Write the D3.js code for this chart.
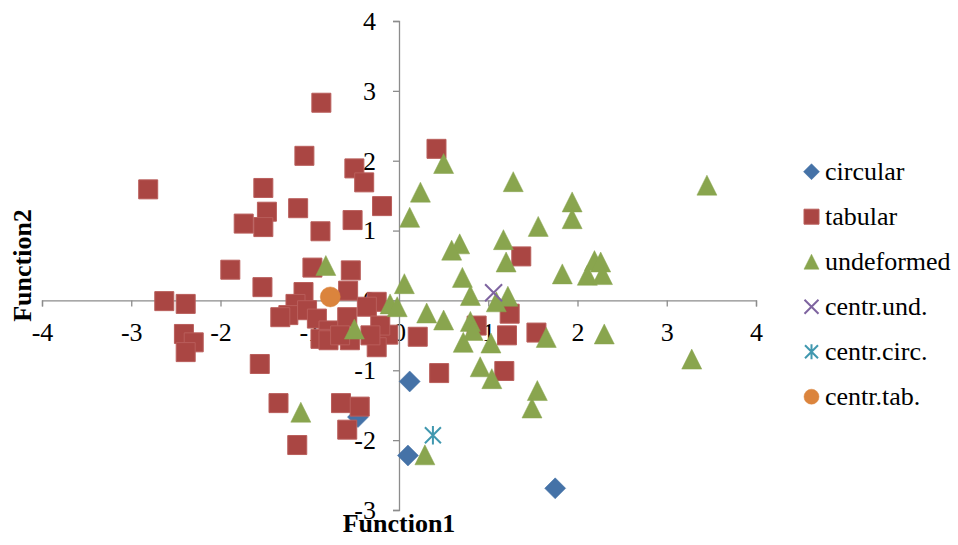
<!DOCTYPE html>
<html>
<head>
<meta charset="utf-8">
<script src="https://cdn.jsdelivr.net/npm/d3@7"></script>
<style>
  html, body { margin: 0; padding: 0; background: #fff; }
</style>
</head>
<body>
<svg id="chart" width="958" height="545"></svg>
<script>
// ---- data ----
const seriesNames = ["circular", "tabular", "undeformed", "centr.und.", "centr.circ.", "centr.tab."];

const circularX = [0.12, 0.10, 1.75, -0.46];
const circularY = [-1.16, -2.22, -2.69, -1.67];

const tabularX = [-0.87, -1.06, -0.50, -0.39, -2.81, -1.52, -0.19, -1.48, -1.13, -1.74,
  -1.52, -0.52, -0.88, -1.89, -0.97, -0.54, -1.53, -2.63, -2.39, -0.57,
  -1.07, -0.25, 0.42, 1.37, 1.24, 0.87, 1.21, 1.54, 0.21, 0.45,
  1.18, -0.12, -1.16, -1.24, -1.03, -0.92, -0.79, -0.88, -0.79, -0.58,
  -0.55, -0.36, -0.21, -0.25, -0.32, -1.33, -0.66, -2.41, -2.30, -2.39,
  -1.56, -1.35, -0.65, -0.44, -0.58, -1.14];
const tabularY = [2.83, 2.07, 1.89, 1.69, 1.59, 1.61, 1.35, 1.27, 1.32, 1.10,
  1.05, 1.15, 0.99, 0.44, 0.47, 0.43, 0.19, -0.01, -0.05, 0.14,
  0.12, -0.02, 2.17, 0.63, -0.19, -0.36, -0.50, -0.46, -0.52, -1.04,
  -1.01, -0.49, -0.05, -0.21, -0.14, -0.26, -0.43, -0.55, -0.57, -0.24,
  -0.57, -0.09, -0.36, -0.67, -0.50, -0.24, -0.50, -0.48, -0.60, -0.74,
  -0.91, -1.47, -1.47, -1.52, -1.85, -2.07];

const undeformedX = [-0.82, 0.12, 0.06, 0.50, 0.24, 1.28, 1.94, 1.94, 1.56, 1.17,
  0.68, 0.59, 1.20, 0.71, 1.83, 2.19, 2.26, 2.11, 2.28, 0.80,
  1.22, 1.09, -0.10, -0.02, 0.31, 0.50, 0.80, 0.83, 0.72, 1.03,
  0.91, 1.04, 1.55, 1.49, 0.29, 1.65, 2.30, 3.45, 3.28, -0.50, -1.10];
const undeformedY = [0.50, 1.19, 0.24, 1.96, 1.55, 1.70, 1.41, 1.17, 1.06, 0.87,
  0.81, 0.72, 0.55, 0.33, 0.38, 0.57, 0.55, 0.36, 0.37, 0.07,
  0.06, -0.02, -0.05, -0.09, -0.18, -0.28, -0.30, -0.43, -0.60, -0.61,
  -0.95, -1.12, -1.29, -1.54, -2.21, -0.53, -0.48, 1.65, -0.84, -0.41, -1.60];

const centrUndX = [1.06];
const centrUndY = [0.11];
const centrCircX = [0.38];
const centrCircY = [-1.93];
const centrTabX = [-0.77];
const centrTabY = [0.05];

const xTicks = [-4, -3, -2, -1, 0, 1, 2, 3, 4];
const yTicks = [-3, -2, -1, 0, 1, 2, 3, 4];

const FONT = "'Times New Roman', 'Liberation Serif', Tinos, 'DejaVu Serif', serif";

// ---- custom symbol types ----
const diamondType = { draw(ctx, size) { const r = Math.sqrt(size) / 2;
  ctx.moveTo(0, -r); ctx.lineTo(r, 0); ctx.lineTo(0, r); ctx.lineTo(-r, 0); ctx.closePath(); } };
const squareType = { draw(ctx, size) { const r = Math.sqrt(size) / 2;
  ctx.rect(-r, -r, 2 * r, 2 * r); } };
const triangleType = { draw(ctx, size) { const r = Math.sqrt(size) / 2;
  ctx.moveTo(0, -r); ctx.lineTo(r, r); ctx.lineTo(-r, r); ctx.closePath(); } };
const xType = { draw(ctx, size) { const r = Math.sqrt(size) / 2;
  ctx.moveTo(-r, -r); ctx.lineTo(r, r); ctx.moveTo(r, -r); ctx.lineTo(-r, r); } };
const starType = { draw(ctx, size) { const r = Math.sqrt(size) / 2;
  ctx.moveTo(-r, -r); ctx.lineTo(r, r); ctx.moveTo(r, -r); ctx.lineTo(-r, r);
  ctx.moveTo(0, -r * 1.15); ctx.lineTo(0, r * 1.15); } };
const circleType = { draw(ctx, size) { const r = Math.sqrt(size) / 2;
  ctx.moveTo(r, 0); ctx.arc(0, 0, r, 0, 2 * Math.PI); } };

const series = [
  { name: seriesNames[0], xs: circularX, ys: circularY, type: diamondType, size: 21 * 21, legSize: 16 * 16, fill: "#4572A7", stroke: "#4572A7", sw: 0.5 },
  { name: seriesNames[1], xs: tabularX, ys: tabularY, type: squareType, size: 19 * 19, legSize: 15 * 15, fill: "#AA4643", stroke: "#B95E5B", sw: 1 },
  { name: seriesNames[2], xs: undeformedX, ys: undeformedY, type: triangleType, size: 20 * 20, legSize: 15 * 15, fill: "#89A54E", stroke: "#89A54E", sw: 0.5 },
  { name: seriesNames[3], xs: centrUndX, ys: centrUndY, type: xType, size: 17 * 17, legSize: 14 * 14, fill: "none", stroke: "#7E64A0", sw: 2 },
  { name: seriesNames[4], xs: centrCircX, ys: centrCircY, type: starType, size: 16 * 16, legSize: 13 * 13, fill: "none", stroke: "#4198AF", sw: 2 },
  { name: seriesNames[5], xs: centrTabX, ys: centrTabY, type: circleType, size: 20 * 20, legSize: 15 * 15, fill: "#DB843D", stroke: "#DB843D", sw: 0.5 }
];

// ---- scales ----
const svg = d3.select("#chart");
const x = d3.scaleLinear().domain([-4, 4]).range([42, 756]);
const y = d3.scaleLinear().domain([-3, 4]).range([510, 21]);

const axisColor = "#8c8c8c";
const fontSize = 26;

// x axis through y = 0
const gx = svg.append("g")
  .attr("transform", `translate(0,${y(0)})`)
  .call(d3.axisBottom(x).tickValues(xTicks).tickSize(6).tickSizeOuter(6).tickPadding(16));
// y axis through x = 0
const gy = svg.append("g")
  .attr("transform", `translate(${x(0)},0)`)
  .call(d3.axisLeft(y).tickValues(yTicks).tickSize(6).tickSizeOuter(6).tickPadding(17));

[gx, gy].forEach(g => {
  g.attr("font-family", null).attr("font-size", null);
  g.selectAll("path.domain").attr("stroke", axisColor).attr("stroke-width", 1.3);
  g.selectAll(".tick line").attr("stroke", axisColor).attr("stroke-width", 1.3);
  g.selectAll(".tick text")
    .style("font-family", FONT)
    .style("font-size", fontSize + "px")
    .attr("fill", "#000")
    .text(d => d < 0 ? "-" + Math.abs(d) : String(d));
});

// ---- points ----
series.forEach(s => {
  const sym = d3.symbol().type(s.type).size(s.size);
  svg.append("g").selectAll("path")
    .data(s.xs.map((v, i) => [v, s.ys[i]]))
    .join("path")
    .attr("d", sym)
    .attr("transform", d => `translate(${x(d[0])},${y(d[1])})`)
    .attr("fill", s.fill)
    .attr("stroke", s.stroke)
    .attr("stroke-width", s.sw);
});

// ---- legend ----
const legend = svg.append("g");
series.forEach((s, i) => {
  const cy = 171.7 + i * 45;
  legend.append("path")
    .attr("d", d3.symbol().type(s.type).size(s.legSize)())
    .attr("transform", `translate(811.5,${cy})`)
    .attr("fill", s.fill).attr("stroke", s.stroke).attr("stroke-width", s.sw);
  legend.append("text")
    .attr("x", 825).attr("y", cy + 8.5)
    .style("font-family", FONT)
    .style("font-size", fontSize + "px")
    .attr("fill", "#000")
    .text(s.name);
});

// ---- axis titles ----
svg.append("text")
  .attr("x", x(0)).attr("y", 532)
  .attr("text-anchor", "middle")
  .style("font-family", FONT)
  .style("font-size", "26px").style("font-weight", "bold")
  .text("Function1");
svg.append("text")
  .attr("transform", `translate(31,${(y(4) + y(-3)) / 2}) rotate(-90)`)
  .attr("text-anchor", "middle")
  .style("font-family", FONT)
  .style("font-size", "26px").style("font-weight", "bold")
  .text("Function2");
</script>
</body>
</html>
